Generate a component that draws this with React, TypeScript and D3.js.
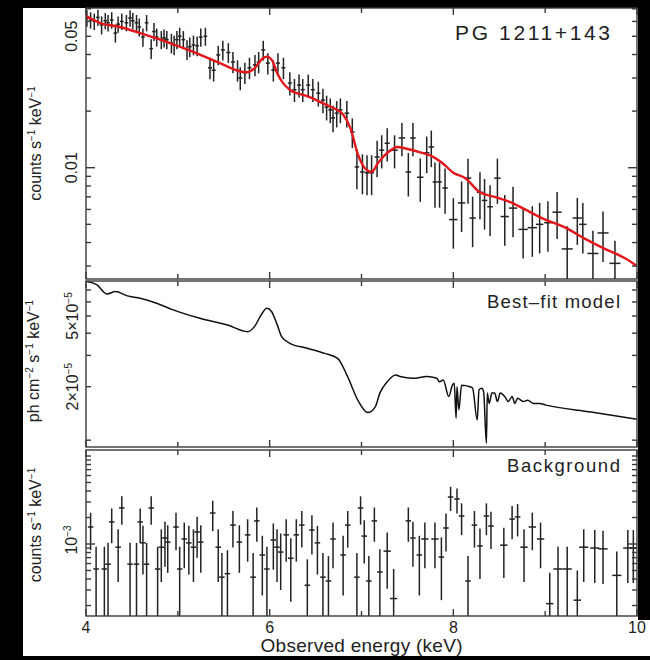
import React from "react";
import * as d3 from "d3";

// ---------- DATA ----------
// Source spectrum: [energy keV, half bin width keV, counts s^-1 keV^-1, relative error]
const srcData: [number, number, number, number][] = [
  [4.01, 0.02, 0.0625, 0.1], [4.05, 0.02, 0.061, 0.1], [4.09, 0.02, 0.06, 0.1], [4.13, 0.02, 0.063, 0.1],
  [4.17, 0.02, 0.0575, 0.11], [4.21, 0.02, 0.0605, 0.1], [4.24, 0.02, 0.059, 0.1], [4.28, 0.02, 0.061, 0.1],
  [4.32, 0.02, 0.052, 0.11], [4.35, 0.02, 0.058, 0.1], [4.39, 0.02, 0.06, 0.1], [4.44, 0.02, 0.059, 0.1],
  [4.48, 0.02, 0.0625, 0.1], [4.51, 0.02, 0.0605, 0.1], [4.55, 0.02, 0.059, 0.1], [4.58, 0.02, 0.056, 0.11],
  [4.62, 0.02, 0.0495, 0.11], [4.66, 0.02, 0.059, 0.1], [4.71, 0.02, 0.043, 0.12], [4.74, 0.02, 0.053, 0.11],
  [4.77, 0.02, 0.0495, 0.11], [4.82, 0.02, 0.048, 0.11], [4.85, 0.02, 0.049, 0.11], [4.88, 0.02, 0.048, 0.11],
  [4.93, 0.02, 0.046, 0.12], [4.96, 0.02, 0.045, 0.12], [4.99, 0.02, 0.048, 0.11], [5.02, 0.02, 0.05, 0.11],
  [5.06, 0.02, 0.048, 0.11], [5.1, 0.02, 0.0425, 0.12], [5.13, 0.02, 0.044, 0.12], [5.17, 0.02, 0.045, 0.12],
  [5.21, 0.02, 0.0445, 0.12], [5.25, 0.02, 0.0495, 0.11], [5.3, 0.02, 0.05, 0.11], [5.35, 0.022, 0.034, 0.13],
  [5.39, 0.022, 0.033, 0.13], [5.44, 0.022, 0.0398, 0.12], [5.49, 0.022, 0.0423, 0.12], [5.55, 0.022, 0.041, 0.12],
  [5.6, 0.022, 0.0365, 0.13], [5.65, 0.022, 0.033, 0.13], [5.68, 0.022, 0.03, 0.14], [5.73, 0.022, 0.032, 0.13],
  [5.78, 0.022, 0.034, 0.13], [5.84, 0.022, 0.0352, 0.13], [5.88, 0.022, 0.0365, 0.13], [5.93, 0.022, 0.0423, 0.12],
  [5.98, 0.022, 0.036, 0.13], [6.04, 0.022, 0.033, 0.13], [6.09, 0.022, 0.036, 0.13], [6.15, 0.022, 0.034, 0.13],
  [6.22, 0.022, 0.0282, 0.14], [6.27, 0.022, 0.026, 0.14], [6.32, 0.022, 0.0275, 0.14], [6.36, 0.022, 0.026, 0.14],
  [6.42, 0.022, 0.0275, 0.14], [6.47, 0.022, 0.026, 0.14], [6.53, 0.022, 0.0249, 0.15], [6.58, 0.022, 0.0229, 0.15],
  [6.62, 0.022, 0.021, 0.15], [6.66, 0.022, 0.0203, 0.15], [6.69, 0.022, 0.0184, 0.16], [6.73, 0.022, 0.0195, 0.16],
  [6.77, 0.022, 0.0203, 0.15], [6.84, 0.025, 0.0195, 0.16], [6.9, 0.025, 0.0155, 0.18], [6.95, 0.025, 0.0101, 0.24],
  [7.01, 0.025, 0.0095, 0.24], [7.06, 0.025, 0.0094, 0.24], [7.11, 0.025, 0.0094, 0.24], [7.17, 0.028, 0.0114, 0.22],
  [7.22, 0.028, 0.0124, 0.2], [7.28, 0.028, 0.0135, 0.2], [7.36, 0.035, 0.0124, 0.2], [7.44, 0.035, 0.0144, 0.2],
  [7.51, 0.03, 0.0095, 0.26], [7.56, 0.03, 0.0144, 0.2], [7.64, 0.035, 0.0089, 0.26], [7.71, 0.03, 0.012, 0.22],
  [7.76, 0.03, 0.0129, 0.22], [7.8, 0.025, 0.0084, 0.27], [7.85, 0.025, 0.0084, 0.27], [7.91, 0.03, 0.0078, 0.27],
  [8.0, 0.045, 0.0053, 0.3], [8.09, 0.04, 0.0065, 0.3], [8.16, 0.035, 0.0088, 0.27], [8.21, 0.035, 0.0054, 0.3],
  [8.29, 0.035, 0.0074, 0.28], [8.34, 0.03, 0.0067, 0.3], [8.4, 0.03, 0.0062, 0.3], [8.48, 0.035, 0.0088, 0.27],
  [8.56, 0.045, 0.0055, 0.3], [8.65, 0.045, 0.0061, 0.3], [8.76, 0.05, 0.0047, 0.3], [8.86, 0.05, 0.0048, 0.3],
  [8.94, 0.04, 0.005, 0.3], [9.03, 0.04, 0.0051, 0.3], [9.13, 0.05, 0.0058, 0.28], [9.24, 0.06, 0.0037, 0.32],
  [9.35, 0.05, 0.0054, 0.28], [9.41, 0.04, 0.005, 0.3], [9.52, 0.06, 0.0035, 0.32], [9.63, 0.06, 0.0045, 0.3],
  [9.76, 0.06, 0.0031, 0.32],
];

// Folded model (red): [energy keV, counts s^-1 keV^-1]
const srcModel: [number, number][] = [
  [4.0, 0.064], [4.15, 0.059], [4.37, 0.056], [4.59, 0.052], [4.81, 0.048], [5.02, 0.044], [5.24, 0.04],
  [5.46, 0.036], [5.68, 0.0325], [5.75, 0.0322], [5.84, 0.034], [5.92, 0.038], [5.97, 0.039], [6.03, 0.037],
  [6.08, 0.032], [6.15, 0.028], [6.22, 0.026], [6.41, 0.024], [6.6, 0.0218], [6.71, 0.0206], [6.8, 0.0192],
  [6.88, 0.0162], [6.96, 0.0118], [7.04, 0.0099], [7.11, 0.0095], [7.18, 0.0106], [7.29, 0.0121], [7.39, 0.0129],
  [7.47, 0.0127], [7.66, 0.012], [7.77, 0.0115], [7.88, 0.0106], [8.0, 0.0094], [8.13, 0.0088], [8.29, 0.0074],
  [8.45, 0.007], [8.64, 0.0065], [8.78, 0.006], [9.0, 0.0053], [9.22, 0.0048], [9.43, 0.0042], [9.65, 0.0037],
  [9.87, 0.0033], [10.0, 0.003],
];

// Best-fit model: [energy keV, ph cm^-2 s^-1 keV^-1]
const bestFit: [number, number][] = [
  [4.0, 7.85e-5], [4.12, 7.48e-5], [4.23, 6.65e-5], [4.32, 6.86e-5], [4.45, 6.49e-5], [4.59, 6.3e-5],
  [4.77, 5.9e-5], [4.95, 5.41e-5], [5.24, 4.85e-5], [5.54, 4.45e-5], [5.76, 4.08e-5], [5.84, 4.4e-5],
  [5.91, 5.1e-5], [5.97, 5.52e-5], [6.02, 5.3e-5], [6.08, 4.5e-5], [6.13, 3.83e-5], [6.22, 3.51e-5],
  [6.4, 3.3e-5], [6.6, 3.08e-5], [6.74, 2.89e-5], [6.85, 2.27e-5], [6.96, 1.68e-5], [7.07, 1.43e-5],
  [7.15, 1.54e-5], [7.2, 1.84e-5], [7.28, 2.13e-5], [7.37, 2.33e-5], [7.42, 2.28e-5], [7.56, 2.23e-5],
  [7.71, 2.28e-5], [7.82, 2.23e-5], [7.85, 2.13e-5], [7.89, 2.18e-5], [7.95, 1.76e-5], [7.99, 2.04e-5],
  [8.01, 2.09e-5], [8.03, 1.33e-5], [8.04, 2.0e-5], [8.06, 1.48e-5], [8.09, 2.04e-5], [8.18, 2.0e-5],
  [8.21, 1.96e-5], [8.26, 1.3e-5], [8.28, 1.92e-5], [8.31, 1.96e-5], [8.33, 1.87e-5], [8.36, 9.6e-6],
  [8.37, 1.84e-5], [8.39, 1.61e-5], [8.42, 1.84e-5], [8.45, 1.84e-5], [8.48, 1.65e-5], [8.51, 1.84e-5],
  [8.56, 1.76e-5], [8.6, 1.65e-5], [8.64, 1.76e-5], [8.67, 1.61e-5], [8.7, 1.72e-5], [8.76, 1.65e-5],
  [8.81, 1.68e-5], [8.87, 1.61e-5], [8.94, 1.61e-5], [9.0, 1.58e-5], [9.5, 1.44e-5], [10.0, 1.31e-5],
];

// Background: [energy keV, half bin width keV, counts s^-1 keV^-1, error]
const bkgData: [number, number, number, number][] = [
  [4.05, 0.03, 1.56e-3, 0.71e-3], [4.11, 0.03, 0.52e-3, 0.41e-3], [4.2, 0.03, 0.52e-3, 0.41e-3],
  [4.24, 0.03, 0.59e-3, 0.44e-3], [4.28, 0.03, 1.78e-3, 0.76e-3], [4.35, 0.03, 0.92e-3, 0.55e-3],
  [4.39, 0.03, 2.57e-3, 0.91e-3], [4.48, 0.03, 0.59e-3, 0.44e-3], [4.55, 0.03, 0.59e-3, 0.44e-3],
  [4.59, 0.03, 1.78e-3, 0.76e-3], [4.62, 0.03, 1.03e-3, 0.58e-3], [4.66, 0.03, 0.59e-3, 0.44e-3],
  [4.71, 0.03, 2.57e-3, 0.91e-3], [4.78, 0.03, 0.52e-3, 0.41e-3], [4.82, 0.03, 0.92e-3, 0.55e-3],
  [4.86, 0.03, 1.17e-3, 0.62e-3], [4.89, 0.03, 1.05e-3, 0.58e-3], [4.98, 0.03, 1.56e-3, 0.71e-3],
  [5.02, 0.03, 0.52e-3, 0.41e-3], [5.07, 0.03, 1.14e-3, 0.61e-3], [5.12, 0.03, 1.03e-3, 0.58e-3],
  [5.17, 0.03, 0.92e-3, 0.55e-3], [5.21, 0.03, 1.37e-3, 0.67e-3], [5.25, 0.03, 1.05e-3, 0.58e-3],
  [5.38, 0.03, 2.25e-3, 0.85e-3], [5.44, 0.03, 0.92e-3, 0.55e-3], [5.48, 0.03, 0.42e-3, 0.37e-3],
  [5.54, 0.03, 0.46e-3, 0.39e-3], [5.6, 0.03, 1.64e-3, 0.73e-3], [5.67, 0.03, 1.05e-3, 0.58e-3],
  [5.76, 0.03, 1.27e-3, 0.64e-3], [5.82, 0.03, 0.42e-3, 0.37e-3], [5.86, 0.03, 1.83e-3, 0.77e-3],
  [5.92, 0.03, 0.75e-3, 0.49e-3], [5.97, 0.03, 0.52e-3, 0.41e-3], [6.04, 0.03, 1.11e-3, 0.6e-3],
  [6.08, 0.03, 0.92e-3, 0.55e-3], [6.12, 0.03, 0.81e-3, 0.51e-3], [6.18, 0.03, 1.27e-3, 0.64e-3],
  [6.23, 0.03, 0.69e-3, 0.47e-3], [6.29, 0.03, 1.27e-3, 0.64e-3], [6.35, 0.03, 1.64e-3, 0.73e-3],
  [6.41, 0.03, 0.34e-3, 0.33e-3], [6.46, 0.03, 1.44e-3, 0.68e-3], [6.52, 0.03, 1.03e-3, 0.58e-3],
  [6.58, 0.03, 0.42e-3, 0.37e-3], [6.64, 0.03, 0.38e-3, 0.35e-3], [6.69, 0.03, 1.14e-3, 0.61e-3],
  [6.8, 0.03, 0.75e-3, 0.49e-3], [6.85, 0.03, 1.64e-3, 0.73e-3], [6.95, 0.03, 0.42e-3, 0.37e-3],
  [6.99, 0.03, 2.57e-3, 0.91e-3], [7.03, 0.03, 1.23e-3, 0.63e-3], [7.08, 0.03, 0.38e-3, 0.35e-3],
  [7.14, 0.03, 1.83e-3, 0.77e-3], [7.2, 0.03, 0.48e-3, 0.39e-3], [7.28, 0.04, 0.83e-3, 0.52e-3],
  [7.35, 0.04, 0.24e-3, 0.28e-3], [7.51, 0.03, 1.83e-3, 0.77e-3], [7.56, 0.03, 1.17e-3, 0.62e-3],
  [7.63, 0.03, 0.75e-3, 0.49e-3], [7.69, 0.04, 1.14e-3, 0.61e-3], [7.8, 0.04, 1.14e-3, 0.61e-3],
  [7.87, 0.03, 0.71e-3, 0.48e-3], [7.92, 0.03, 1.52e-3, 0.7e-3], [7.97, 0.03, 3.42e-3, 1.05e-3],
  [8.04, 0.03, 3.25e-3, 1.03e-3], [8.09, 0.03, 2.08e-3, 0.82e-3], [8.16, 0.03, 0.38e-3, 0.35e-3],
  [8.23, 0.03, 1.64e-3, 0.73e-3], [8.29, 0.03, 0.95e-3, 0.55e-3], [8.36, 0.03, 2.08e-3, 0.82e-3],
  [8.41, 0.03, 1.6e-3, 0.72e-3], [8.55, 0.04, 0.97e-3, 0.56e-3], [8.64, 0.03, 1.92e-3, 0.79e-3],
  [8.7, 0.03, 2.03e-3, 0.81e-3], [8.77, 0.04, 0.92e-3, 0.55e-3], [8.86, 0.04, 1.56e-3, 0.71e-3],
  [8.95, 0.04, 1.14e-3, 0.61e-3], [9.05, 0.04, 0.21e-3, 0.26e-3], [9.14, 0.05, 0.52e-3, 0.41e-3],
  [9.24, 0.05, 0.52e-3, 0.41e-3], [9.35, 0.04, 0.23e-3, 0.27e-3], [9.42, 0.05, 0.92e-3, 0.55e-3],
  [9.54, 0.05, 0.9e-3, 0.54e-3], [9.63, 0.05, 0.88e-3, 0.53e-3], [9.78, 0.05, 0.44e-3, 0.38e-3],
  [9.9, 0.05, 0.9e-3, 0.54e-3], [9.96, 0.04, 0.9e-3, 0.54e-3],
];

const xTicks = [4, 5, 6, 7, 8, 9, 10];
const xLabels = [4, 6, 8, 10];
const topTicks = [0.003, 0.004, 0.005, 0.006, 0.007, 0.008, 0.009, 0.01, 0.02, 0.03, 0.04, 0.05, 0.06, 0.07];
const midTicks = [1e-5, 2e-5, 3e-5, 4e-5, 5e-5, 6e-5, 7e-5];
const botTicks = [2e-4, 3e-4, 4e-4, 5e-4, 6e-4, 7e-4, 8e-4, 9e-4, 1e-3, 2e-3, 3e-3, 4e-3, 5e-3, 6e-3, 7e-3, 8e-3, 9e-3, 1e-2];

// ---------- LAYOUT ----------
const FONT = "'Liberation Sans', Arial, Helvetica, sans-serif";
const XL = 86, XR = 637;
const AX = "#3a3a3a";
const INK = "#222";

export default function App() {
  const x = d3.scaleLinear().domain([4, 10]).range([XL, XR]);
  const yTop = d3.scaleLog().domain([0.00256, 0.0707]).range([279, 8]);
  const yMid = d3.scaleLog().domain([9.15e-6, 7.87e-5]).range([447, 281]);
  const yBot = d3.scaleLog().domain([1.52e-4, 1.17e-2]).range([616, 450]);

  const panels = [
    { id: "top", y: yTop, ticks: topTicks, major: [0.01] },
    { id: "mid", y: yMid, ticks: midTicks, major: [] as number[] },
    { id: "bot", y: yBot, ticks: botTicks, major: [1e-3] },
  ];

  const modelLine = d3
    .line<[number, number]>()
    .x((d) => x(d[0]))
    .y((d) => yTop(d[1]))
    .curve(d3.curveMonotoneX);
  const fitLine = d3
    .line<[number, number]>()
    .x((d) => x(d[0]))
    .y((d) => yMid(d[1]))
    .curve(d3.curveMonotoneX);

  const sup = (s: string, size = 10) => (
    <tspan dy={-6} fontSize={size}>{s}</tspan>
  );

  return (
    <>
      <style>{"body{margin:0;background:#000}"}</style>
      <svg width={650} height={660} style={{ display: "block" }} fontFamily={FONT}>
        <rect x={0} y={0} width={650} height={660} fill="#000" />
        <rect x={23} y={8} width={615} height={648} fill="#fff" />
        <rect x={600} y={620} width={50} height={36} fill="#fff" />
        <defs>
          {panels.map((p) => {
            const [b, t] = p.y.range();
            return (
              <clipPath id={`clip-${p.id}`} key={p.id}>
                <rect x={XL} y={t} width={XR - XL} height={b - t} />
              </clipPath>
            );
          })}
        </defs>

        {/* Top panel data */}
        <g clipPath="url(#clip-top)" stroke={INK} strokeWidth={1.5}>
          {srcData.map(([e, hw, v, r], i) => (
            <g key={i}>
              <line x1={x(e)} x2={x(e)} y1={yTop(v * (1 + r))} y2={yTop(v * (1 - r))} />
              <line x1={x(e - hw)} x2={x(e + hw)} y1={yTop(v)} y2={yTop(v)} />
            </g>
          ))}
          <path d={modelLine(srcModel) || ""} fill="none" stroke="#e3161b" strokeWidth={2.4} />
        </g>

        {/* Middle panel model */}
        <g clipPath="url(#clip-mid)">
          <path d={fitLine(bestFit) || ""} fill="none" stroke="#111" strokeWidth={1.5} />
        </g>

        {/* Bottom panel data */}
        <g clipPath="url(#clip-bot)" stroke={INK} strokeWidth={1.5}>
          {bkgData.map(([e, hw, v, er], i) => (
            <g key={i}>
              <line x1={x(e)} x2={x(e)} y1={yBot(v + er)} y2={yBot(Math.max(v - er, 1e-5))} />
              <line x1={x(e - hw)} x2={x(e + hw)} y1={yBot(v)} y2={yBot(v)} />
            </g>
          ))}
        </g>

        {/* Frames and ticks */}
        {panels.map((p) => {
          const [b, t] = p.y.range();
          return (
            <g key={p.id} stroke={AX} strokeWidth={1.4} fill="none">
              <rect x={XL} y={t} width={XR - XL} height={b - t} />
              {xTicks.map((tv) => {
                const len = tv % 2 === 0 ? 7 : 5;
                return (
                  <g key={tv}>
                    <line x1={x(tv)} x2={x(tv)} y1={t} y2={t + len} />
                    <line x1={x(tv)} x2={x(tv)} y1={b} y2={b - len} />
                  </g>
                );
              })}
              {p.ticks.map((tv) => {
                const len = p.major.includes(tv) ? 9 : 5;
                return (
                  <g key={tv}>
                    <line x1={XL} x2={XL + len} y1={p.y(tv)} y2={p.y(tv)} />
                    <line x1={XR} x2={XR - len} y1={p.y(tv)} y2={p.y(tv)} />
                  </g>
                );
              })}
            </g>
          );
        })}

        {/* Y tick labels */}
        <g fill={INK} fontSize={16} textAnchor="middle">
          <text transform={`translate(77,${yTop(0.05)}) rotate(-90)`}>0.05</text>
          <text transform={`translate(77,${yTop(0.01)}) rotate(-90)`}>0.01</text>
          <text transform={`translate(78,${yMid(5e-5)}) rotate(-90)`}>
            5×10{sup("−5")}
          </text>
          <text transform={`translate(78,${yMid(2e-5)}) rotate(-90)`}>
            2×10{sup("−5")}
          </text>
          <text transform={`translate(77,${yBot(1e-3) - 4}) rotate(-90)`}>
            10{sup("−3")}
          </text>
        </g>

        {/* Y axis titles */}
        <g fill={INK} fontSize={16} textAnchor="middle">
          <text transform={`translate(41,${(yTop.range()[0] + yTop.range()[1]) / 2}) rotate(-90)`}>
            counts s{sup("−1")}
            <tspan dy={6}> keV</tspan>
            {sup("−1")}
          </text>
          <text transform={`translate(39,${(yMid.range()[0] + yMid.range()[1]) / 2 - 3}) rotate(-90)`}>
            ph cm{sup("−2")}
            <tspan dy={6}> s</tspan>
            {sup("−1")}
            <tspan dy={6}> keV</tspan>
            {sup("−1")}
          </text>
          <text transform={`translate(41,${(yBot.range()[0] + yBot.range()[1]) / 2 - 8}) rotate(-90)`}>
            counts s{sup("−1")}
            <tspan dy={6}> keV</tspan>
            {sup("−1")}
          </text>
        </g>

        {/* X tick labels */}
        <g fill={INK} fontSize={16} textAnchor="middle">
          {xLabels.map((tv) => (
            <text key={tv} x={x(tv)} y={633}>
              {tv}
            </text>
          ))}
        </g>
        <text x={(XL + XR) / 2} y={652} fill={INK} fontSize={19} textAnchor="middle" textLength={202} lengthAdjust="spacing">
          Observed energy (keV)
        </text>

        {/* Panel annotations */}
        <text x={610} y={40} fill={INK} fontSize={21} textAnchor="end" textLength={155} lengthAdjust="spacing">
          PG 1211+143
        </text>
        <text x={620} y={308} fill={INK} fontSize={18.5} textAnchor="end" textLength={133} lengthAdjust="spacing">
          Best–fit model
        </text>
        <text x={620} y={472} fill={INK} fontSize={18.5} textAnchor="end" textLength={113} lengthAdjust="spacing">
          Background
        </text>
      </svg>
    </>
  );
}
